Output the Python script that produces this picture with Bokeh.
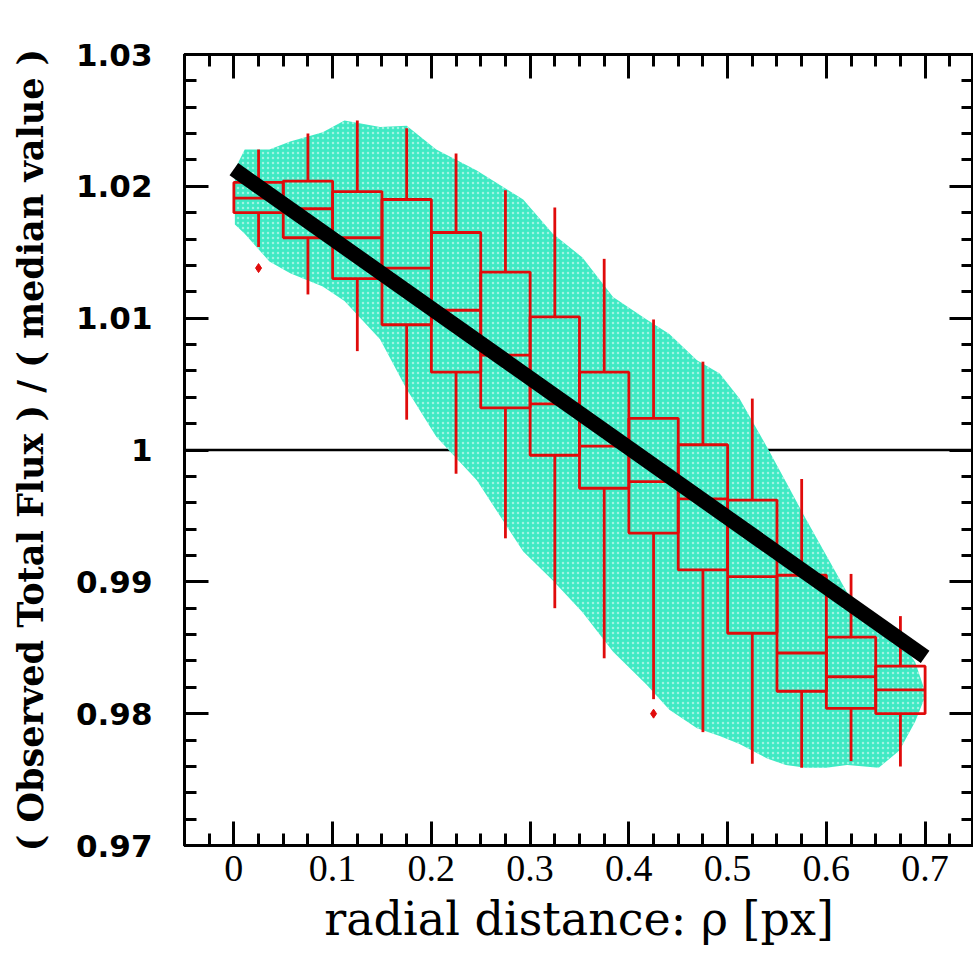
import numpy as np
from bokeh.plotting import figure
from bokeh.models import FixedTicker, LinearAxis, Span, Range1d, CustomJSTickFormatter
from bokeh.embed import file_html
from bokeh.resources import INLINE

# ---------------- data ----------------
# envelope of the dense scatter cloud (x, upper y, lower y)
cloud_x = [0.001, 0.011, 0.036, 0.057, 0.090, 0.112, 0.148, 0.175, 0.205, 0.246,
           0.293, 0.323, 0.353, 0.384, 0.418, 0.441, 0.469, 0.492, 0.512, 0.540,
           0.559, 0.579, 0.600, 0.621, 0.653, 0.674, 0.690, 0.699]
cloud_upper = [1.0213, 1.0228, 1.0228, 1.0234, 1.0241, 1.0250, 1.0245, 1.0246, 1.0228, 1.0212,
               1.0190, 1.0164, 1.0146, 1.0116, 1.0099, 1.0088, 1.0068, 1.0058, 1.0039, 1.0002,
               0.9976, 0.9948, 0.9920, 0.9892, 0.9870, 0.9857, 0.9839, 0.9819]
cloud_lower = [1.0171, 1.0164, 1.0143, 1.0134, 1.0124, 1.0113, 1.0084, 1.0046, 1.0010, 0.9977,
               0.9923, 0.9901, 0.9877, 0.9847, 0.9822, 0.9803, 0.9789, 0.9783, 0.9777, 0.9766,
               0.9761, 0.9759, 0.9759, 0.9761, 0.9759, 0.9772, 0.9794, 0.9811]

# box plots in bins of 0.05
bin_left = [0.00, 0.05, 0.10, 0.15, 0.20, 0.25, 0.30, 0.35, 0.40, 0.45, 0.50, 0.55, 0.60, 0.65]
bin_right = [0.05, 0.10, 0.15, 0.20, 0.25, 0.30, 0.35, 0.40, 0.45, 0.50, 0.55, 0.60, 0.65, 0.70]
bin_center = [0.025, 0.075, 0.125, 0.175, 0.225, 0.275, 0.325, 0.375, 0.425, 0.475, 0.525, 0.575, 0.625, 0.675]
q3 = [1.0203, 1.0204, 1.0196, 1.0190, 1.0165, 1.0135, 1.0101, 1.0059, 1.0024, 1.0004, 0.9962, 0.9905, 0.9858, 0.9836]
median = [1.0191, 1.0183, 1.0161, 1.0138, 1.0106, 1.0072, 1.0035, 1.0003, 0.9976, 0.9963, 0.9904, 0.9846, 0.9828, 0.9818]
q1 = [1.0180, 1.0161, 1.0130, 1.0095, 1.0059, 1.0032, 0.9996, 0.9971, 0.9937, 0.9909, 0.9861, 0.9817, 0.9804, 0.9800]
whisker_high = [1.0228, 1.0240, 1.0250, 1.0244, 1.0225, 1.0197, 1.0184, 1.0145, 1.0099, 1.0067, 1.0039, 0.9978, 0.9906, 0.9874]
whisker_low = [1.0154, 1.0118, 1.0075, 1.0023, 0.9982, 0.9933, 0.9880, 0.9842, 0.9811, 0.9786, 0.9762, 0.9759, 0.9764, 0.9760]
outlier_x = [0.025, 0.425]
outlier_y = [1.0138, 0.9800]

# linear fit
fit_x = [0.0, 0.7]
fit_y = [1.0213, 0.9843]

reference_level = 1.0

x_tick_values = [0.0, 0.1, 0.2, 0.3, 0.4, 0.5, 0.6, 0.7]
x_tick_labels = ["0", "0.1", "0.2", "0.3", "0.4", "0.5", "0.6", "0.7"]
y_tick_values = [0.97, 0.98, 0.99, 1.0, 1.01, 1.02, 1.03]
y_tick_labels = ["0.97", "0.98", "0.99", "1", "1.01", "1.02", "1.03"]

# ---------------- styling ----------------
CLOUD = "#3fe9c3"
RED = "#e00b0b"

x_minor = [round(v, 3) for v in np.arange(-0.05, 0.7501, 0.025)]
y_minor = [round(v, 3) for v in np.arange(0.97, 1.0301, 0.002)]

p = figure(width=973, height=964, output_backend="svg", toolbar_location=None,
           x_range=Range1d(-0.05, 0.749), y_range=Range1d(0.97, 1.03),
           min_border_left=184, min_border_right=0, min_border_top=54, min_border_bottom=119,
           x_axis_label="radial distance: \u03c1 [px]",
           y_axis_label="( Observed Total Flux ) / ( median value )")
p.background_fill_color = "white"
p.border_fill_color = "white"
p.grid.visible = False
p.outline_line_color = "black"
p.outline_line_width = 3

xt = FixedTicker(ticks=x_tick_values, minor_ticks=x_minor)
yt = FixedTicker(ticks=y_tick_values, minor_ticks=y_minor)


def style_axis(ax, ticker):
    ax.ticker = ticker
    ax.axis_line_color = "black"
    ax.axis_line_width = 3
    ax.major_tick_in = 24
    ax.major_tick_out = 0
    ax.minor_tick_in = 12
    ax.minor_tick_out = 0
    ax.major_tick_line_width = 3
    ax.minor_tick_line_width = 3
    ax.major_tick_line_color = "black"
    ax.minor_tick_line_color = "black"


xa = p.xaxis[0]
style_axis(xa, xt)
xa.major_label_overrides = dict(zip(x_tick_values, x_tick_labels))
xa.major_label_text_font = "Liberation Serif"
xa.major_label_text_font_size = "38px"
xa.major_label_text_color = "black"
xa.major_label_standoff = 10
xa.axis_label_text_font = "DejaVu Serif"
xa.axis_label_text_font_style = "normal"
xa.axis_label_text_font_size = "46px"
xa.axis_label_text_color = "black"
xa.axis_label_standoff = 8

ya = p.yaxis[0]
style_axis(ya, yt)
ya.major_label_overrides = dict(zip(y_tick_values, y_tick_labels))
ya.major_label_text_font = "DejaVu Sans"
ya.major_label_text_font_style = "bold"
ya.major_label_text_font_size = "31px"
ya.major_label_text_color = "black"
ya.major_label_standoff = 32
ya.major_label_orientation = "horizontal"
ya.axis_label_text_font = "DejaVu Serif"
ya.axis_label_text_font_style = "bold"
ya.axis_label_text_font_size = "35px"
ya.axis_label_text_color = "black"
ya.axis_label_standoff = 22

top = LinearAxis(formatter=CustomJSTickFormatter(code="return ''"), major_label_standoff=0,
                 major_label_text_font_size="1px")
style_axis(top, FixedTicker(ticks=x_tick_values, minor_ticks=x_minor))
right = LinearAxis(formatter=CustomJSTickFormatter(code="return ''"), major_label_standoff=0,
                   major_label_text_font_size="1px")
style_axis(right, FixedTicker(ticks=y_tick_values, minor_ticks=y_minor))
p.add_layout(top, "above")
p.add_layout(right, "right")

# reference line at 1 (beneath the cloud)
p.add_layout(Span(location=reference_level, dimension="width", line_color="black",
                  line_width=2.5, level="underlay"))

# scatter cloud envelope (speckled like the dense dot cloud)
p.varea(x=cloud_x, y1=cloud_lower, y2=cloud_upper, fill_color=CLOUD, fill_alpha=1.0,
        hatch_pattern="dot", hatch_color="white", hatch_alpha=0.5, hatch_scale=5,
        hatch_weight=1.5)

# box plots
p.segment(x0=bin_center, y0=q3, x1=bin_center, y1=whisker_high, line_color=RED, line_width=2.8)
p.segment(x0=bin_center, y0=q1, x1=bin_center, y1=whisker_low, line_color=RED, line_width=2.8)
p.quad(left=bin_left, right=bin_right, bottom=q1, top=q3, fill_color=None,
       line_color=RED, line_width=2.8)
p.segment(x0=bin_left, y0=median, x1=bin_right, y1=median, line_color=RED, line_width=2.8)
p.scatter(x=outlier_x, y=outlier_y, marker="diamond", size=9, fill_color=RED, line_color=RED)

# linear trend
p.line(x=fit_x, y=fit_y, line_color="black", line_width=15, line_cap="butt")

open("out.html", "w").write(file_html(p, INLINE))
